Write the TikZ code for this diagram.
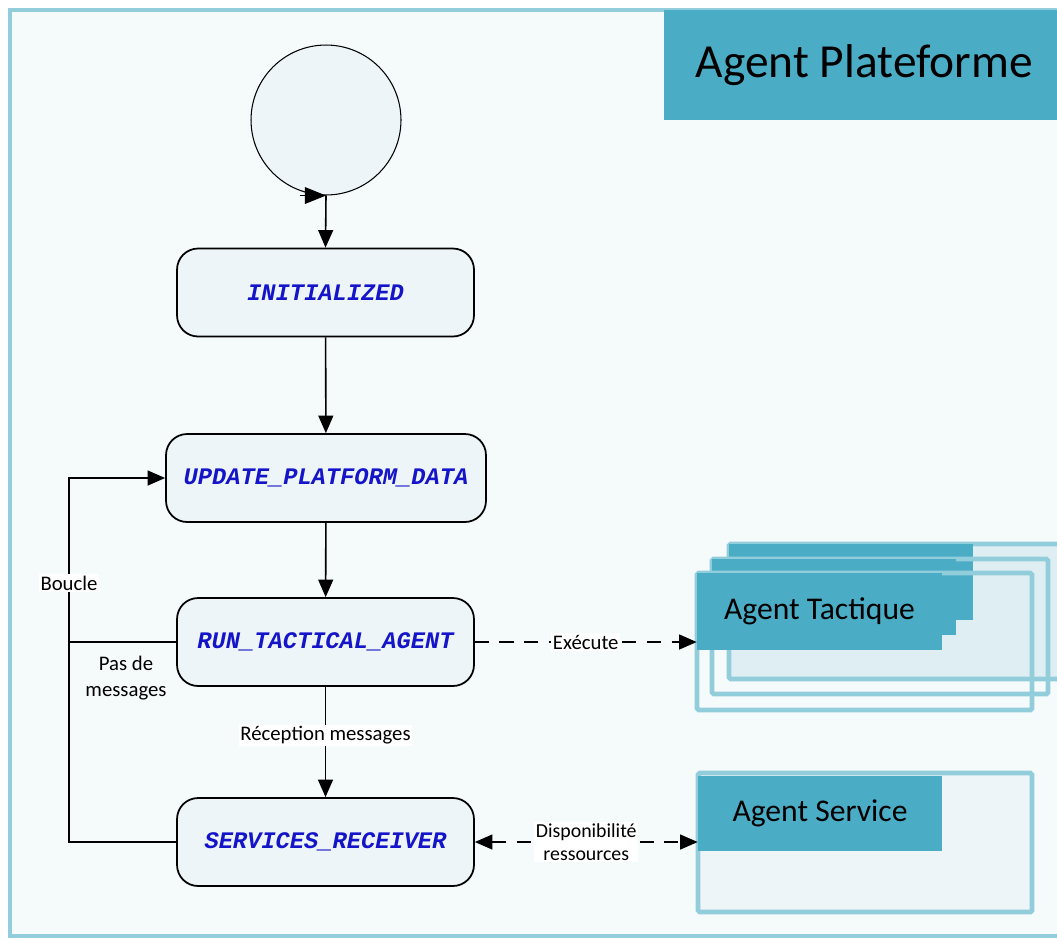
\documentclass[tikz,border=0pt]{standalone}
\usepackage{fontspec}
\setmainfont{Carlito}
\newfontfamily\statefont{Liberation Mono}
\usetikzlibrary{arrows.meta}
\usetikzlibrary{positioning}
\definecolor{frameblue}{HTML}{92CDDC}
\definecolor{titleblue}{HTML}{4BACC6}
\definecolor{pagefill}{HTML}{F5FAFB}
\definecolor{statefill}{HTML}{EEF5F9}
\definecolor{tacticfill}{HTML}{DEEEF3}
\definecolor{stateblue}{HTML}{1414C8}
\tikzstyle{state}=[draw=black, line width=1pt, rounded corners=12pt, fill=statefill, minimum width=5.94cm, minimum height=1.76cm, text=stateblue, font=\statefont\bfseries\itshape\fontsize{13.5}{15}\selectfont]
\tikzstyle{flow}=[line width=0.9pt, -{Triangle[length=10pt,width=8.5pt]}]
\tikzstyle{dashflow}=[flow, dash pattern=on 8pt off 6pt]
\tikzstyle{lbl}=[fill=white, inner sep=1pt, font=\fontsize{11.8}{13}\selectfont]
\tikzstyle{agentframe}=[draw=frameblue, line width=2.8pt, rounded corners=1pt]
\tikzstyle{agenttitle}=[fill=titleblue, inner sep=0pt, font=\fontsize{18}{21}\selectfont]

\begin{document}
\begin{tikzpicture}[x=0.02cm, y=-0.02cm]
  \useasboundingbox (0,0) rectangle (1057,938);
  % frame of the platform
  \draw[draw=frameblue, line width=2.8pt, fill=pagefill] (10,10) rectangle (1075,936);
  \node[fill=titleblue, anchor=north west, minimum width=8cm, minimum height=2.2cm,
        font=\fontsize{27}{31}\selectfont] (platform) at (664,10) {Agent Plateforme};

  % states
  \node[draw, circle, line width=0.6pt, fill=statefill, minimum size=3cm] (start) at (326,120) {};
  \draw[line width=0.6pt, -{Triangle[length=12pt,width=9.5pt]}] ([xshift=-15pt]start.south) -- (start.south);
  \node[state] (init) at (325.5,292.5) {INITIALIZED};
  \node[state, minimum width=6.4cm] (update) at (326,478) {UPDATE\_PLATFORM\_DATA};
  \node[state] (run) at (325.5,642) {RUN\_TACTICAL\_AGENT};
  \node[state] (recv) at (325.5,842) {SERVICES\_RECEIVER};

  \draw[flow] (start.south) -- (init.north);
  \draw[flow] (init) -- (update);
  \draw[flow] (update) -- (run);
  \draw[flow] (run) -- (recv) node[lbl, pos=0.44] (reception) {Réception messages};

  % loop back
  \coordinate (loopbot) at (69,842);
  \draw[flow] (recv.west) -- (loopbot) |- (update.west);
  \draw[line width=0.9pt] (run.west) -- (run.west -| loopbot);
  \node[lbl] (boucle) at (69,583) {Boucle};
  \node[font=\fontsize{11.8}{15}\selectfont, align=center] (pasmsg) at (126,678) {Pas de\\messages};

  % tactical agents
  \draw[agentframe, fill=tacticfill] (729,544) rectangle (1075,679);
  \fill[titleblue] (729,544) rectangle (973,620);
  \draw[agentframe] (712,559) rectangle (1048,694);
  \fill[titleblue] (712,559) rectangle (956,635);
  \draw[agentframe] (697,573) rectangle (1032,710);
  \node[agenttitle, minimum width=4.9cm, minimum height=1.54cm] (tactique) at (819.5,611) {Agent Tactique};

  % service agent
  \draw[agentframe, fill=statefill] (698,773) rectangle (1032,912);
  \node[agenttitle, minimum width=4.88cm, minimum height=1.5cm] (service) at (820,813.5) {Agent Service};

  \draw[dashflow] (run.east) -- (run.east -| tactique.west) node[lbl, midway] (execute) {Exécute};
  \draw[dashflow, {Triangle[length=10pt,width=8.5pt]}-{Triangle[length=10pt,width=8.5pt]}]
    (recv.east) -- (recv.east -| service.west)
    node[lbl, midway, align=center, font=\fontsize{11.3}{13}\selectfont] (dispo) {Disponibilité\\ressources};
\end{tikzpicture}
\end{document}
